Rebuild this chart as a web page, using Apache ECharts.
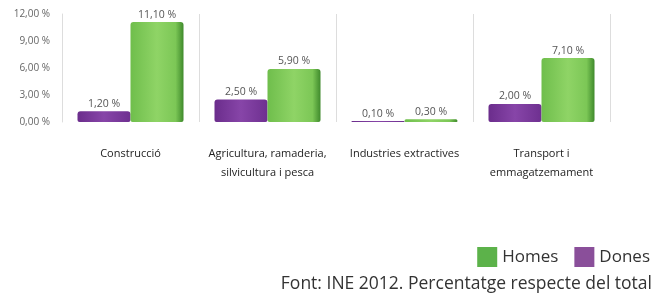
<!DOCTYPE html>
<html>
<head>
<meta charset="utf-8">
<script src="https://cdn.jsdelivr.net/npm/echarts@6/dist/echarts.min.js"></script>
<style>
  html, body { margin: 0; padding: 0; background: #fff; }
  #main { width: 661px; height: 298px; }
</style>
</head>
<body>
<div id="main"></div>
<script type="text/javascript">
    // dades
    var categories = ['Construcció', 'Agricultura, ramaderia,\nsilvicultura i pesca', 'Industries extractives', 'Transport i\nemmagatzemament'];
    var homes = [11.1, 5.9, 0.3, 7.1];
    var dones = [1.2, 2.5, 0.1, 2.0];
    var yTicks = [0, 3, 6, 9, 12];

    function pct(v) {
        return v.toFixed(2).replace('.', ',') + ' %';
    }

    var myChart = echarts.init(document.getElementById('main'));

    var option = {
        textStyle: { fontFamily: 'Open Sans' },
        legend: {
            data: [
                { name: 'Homes', itemStyle: { color: '#5cb24a' } },
                { name: 'Dones', itemStyle: { color: '#8a4f9a' } }
            ],
            right: 6,
            top: 242,
            itemWidth: 20,
            itemHeight: 20,
            itemGap: 16,
            textStyle: { fontSize: 17, color: '#333' },
            icon: 'rect'
        },
        title: {
            text: 'Font: INE 2012. Percentatge respecte del total',
            right: 4,
            top: 270,
            textStyle: { fontSize: 17.5, fontWeight: 'normal', color: '#333', fontFamily: 'Open Sans' }
        },
        grid: {
            left: 62,
            right: 51,
            top: 14,
            height: 108
        },
        xAxis: {
            type: 'category',
            data: categories,
            axisLine: { show: false },
            axisTick: { show: false },
            axisLabel: { color: '#222', fontSize: 11, lineHeight: 19, margin: 22, interval: 0 },
            splitLine: { show: true, interval: 0, lineStyle: { color: '#ddd', width: 1 } }
        },
        yAxis: {
            type: 'value',
            min: yTicks[0],
            max: yTicks[yTicks.length - 1],
            interval: 3,
            axisLine: { show: true, lineStyle: { color: '#ddd' } },
            splitLine: { show: false },
            axisTick: { show: false },
            axisLabel: { color: '#666', fontSize: 10, margin: 12, formatter: function (v) { return pct(v); } }
        },
        series: [
            {
                name: 'Dones',
                type: 'bar',
                data: dones,
                barWidth: 53,
                barGap: '0%',
                itemStyle: {
                    color: new echarts.graphic.LinearGradient(0, 0, 1, 0, [
                        { offset: 0, color: '#6b2d8c' },
                        { offset: 0.5, color: '#8745a8' },
                        { offset: 1, color: '#6e3090' }
                    ]),
                    borderRadius: [3, 3, 2, 2]
                },
                label: { show: true, position: 'top', distance: 2, color: '#555', fontSize: 10.5, formatter: function (p) { return pct(p.value); } }
            },
            {
                name: 'Homes',
                type: 'bar',
                data: homes,
                barWidth: 53,
                itemStyle: {
                    color: new echarts.graphic.LinearGradient(0, 0, 1, 0, [
                        { offset: 0, color: '#6fbe4c' },
                        { offset: 0.5, color: '#8fd466' },
                        { offset: 0.85, color: '#7cc756' },
                        { offset: 1, color: '#3f8a2c' }
                    ]),
                    borderRadius: [3, 3, 2, 2]
                },
                label: { show: true, position: 'top', distance: 2, color: '#555', fontSize: 10.5, formatter: function (p) { return pct(p.value); } }
            }
        ]
    };

    myChart.setOption(option);
</script>
</body>
</html>
